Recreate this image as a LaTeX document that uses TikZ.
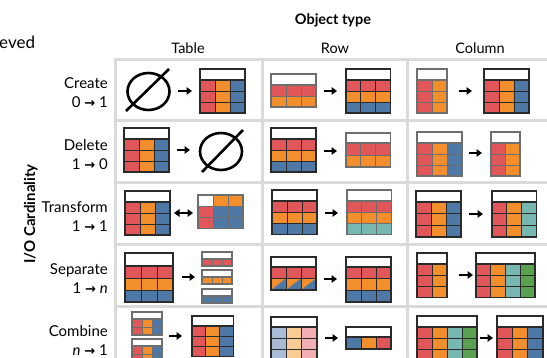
\documentclass[tikz,border=0pt]{standalone}
\usepackage{fontspec}
\setmainfont{Lato}
\newfontfamily\djv{DejaVu Sans}
\usetikzlibrary{arrows.meta}
\definecolor{tr}{HTML}{E15759}
\definecolor{to}{HTML}{F28E2B}
\definecolor{tb}{HTML}{4E79A7}
\definecolor{tt}{HTML}{76B7B2}
\definecolor{tg}{HTML}{59A14F}
\definecolor{lb}{HTML}{A9BCD6}
\definecolor{lo}{HTML}{F9CB95}
\definecolor{lp}{HTML}{F2AEB1}
\definecolor{gridc}{HTML}{DADADA}
\definecolor{bd}{HTML}{2A2A2A}
\definecolor{bg}{HTML}{6E6E6E}
\newcommand\rarr{{\djv\bfseries\fontsize{13}{15}\selectfont →}}
% #1 x, #2 y, #3 cell w, #4 header h, #5 cell h, #6 border colour, #7 ncols, #8 nrows, #9 rows
\newcommand\mtab[9]{%
  \begin{scope}[shift={(#1,#2)}]
    \foreach \rr [count=\ii from 0] in {#9} {
      \foreach \cc [count=\jj from 0] in \rr {
        \filldraw[fill=\cc, draw=#6, line width=0.9pt] (\jj*#3, #4+\ii*#5) rectangle ++(#3,#5);
      }
    }
    \filldraw[draw=#6, fill=white, line width=1.2pt] (0,0) rectangle (#7*#3, #4);
    \draw[#6, line width=1.2pt] (0,0) rectangle (#7*#3, #4+#8*#5);
  \end{scope}}
\tikzset{
  arr/.style={line width=2pt, -{Triangle[length=5.5pt,width=7.5pt]}},
  darr/.style={line width=2pt, {Triangle[length=5.5pt,width=7.5pt]}-{Triangle[length=5.5pt,width=7.5pt]}},
  gline/.style={gridc, line width=3pt},
  empt/.style={line width=2.6pt},
  rowlab/.style={anchor=base east, inner sep=0pt, font=\fontsize{15}{17}\selectfont},
  colhead/.style={anchor=base, inner sep=0pt, font=\fontsize{14.5}{17}\selectfont},
}
\begin{document}
\begin{tikzpicture}[x=1pt,y=-1pt]
\useasboundingbox (0,0) rectangle (547,358);
\clip (0,0) rectangle (547,358);
% grid
\draw[gline] (115,60) -- (115,365);
\draw[gline] (262,60) -- (262,365);
\draw[gline] (407,60) -- (407,365);
\foreach \yy in {60,121,183,245,307} \draw[gline] (113.5,\yy) -- (560,\yy);
% headings
\node[anchor=base west, inner sep=0pt, font=\fontsize{17}{20}\selectfont] (ev) at (-1,49) {eved};
\node[anchor=base, inner sep=0pt, font=\fontsize{14.5}{17}\selectfont\bfseries] (ot) at (333,25) {Object type};
\node[colhead] (hT) at (188,54) {Table};
\node[colhead] (hR) at (335,54) {Row};
\node[colhead] (hC) at (480,54) {Column};
\node[anchor=base, inner sep=0pt, rotate=90, font=\fontsize{15}{17}\selectfont\bfseries] (io) at (35,214) {I/O Cardinality};
% row labels
\node[rowlab] (l1a) at (108,89) {Create};
\node[rowlab] (l1b) at (108,108) {0 \rarr{} 1};
\node[rowlab] (l2a) at (108,151) {Delete};
\node[rowlab] (l2b) at (108,170) {1 \rarr{} 0};
\node[rowlab] (l3a) at (108,213) {Transform};
\node[rowlab] (l3b) at (108,232) {1 \rarr{} 1};
\node[rowlab] (l4a) at (108,275) {Separate};
\node[rowlab] (l4b) at (108,294) {1 \rarr{} \textit{n}};
\node[rowlab] (l5a) at (108,337) {Combine};
\node[rowlab] (l5b) at (108,356) {\textit{n} \rarr{} 1};
% ---------- Create ----------
\draw[empt] (148.5,91.5) ellipse [x radius=21, y radius=18.5];
\draw[empt] (126,111) -- (169,69);
\draw[arr] (178,91) -- (192,91);
\mtab{200}{69}{15}{11}{11}{bd}{3}{3}{{tr,to,tb},{tr,to,tb},{tr,to,tb}}
\mtab{271}{74}{15}{11}{11}{bg}{3}{2}{{tr,tr,tr},{to,to,to}}
\draw[arr] (324,91) -- (337,91);
\mtab{346}{69}{14.7}{11}{11}{bd}{3}{3}{{tr,tr,tr},{to,to,to},{tb,tb,tb}}
\mtab{417}{69}{15}{11}{11}{bg}{2}{3}{{tr,to},{tr,to},{tr,to}}
\draw[arr] (459,91) -- (472,91);
\mtab{484}{69}{15}{11}{11}{bd}{3}{3}{{tr,to,tb},{tr,to,tb},{tr,to,tb}}
% ---------- Delete ----------
\mtab{124}{128}{15}{11}{11}{bd}{3}{3}{{tr,to,tb},{tr,to,tb},{tr,to,tb}}
\draw[arr] (177,150) -- (190,150);
\draw[empt] (221,151.5) ellipse [x radius=21, y radius=18.5];
\draw[empt] (202,172) -- (243,130);
\mtab{271}{128}{15}{11}{11}{bd}{3}{3}{{tr,tr,tr},{to,to,to},{tb,tb,tb}}
\draw[arr] (324,151) -- (337,151);
\mtab{346}{133}{14.7}{10}{12}{bg}{3}{2}{{tr,tr,tr},{to,to,to}}
\mtab{417}{132}{15}{11}{11}{bg}{3}{3}{{tr,to,tb},{tr,to,tb},{tr,to,tb}}
\draw[arr] (469,153) -- (482,153);
\mtab{491}{132}{14.5}{11}{11}{bg}{2}{3}{{tr,to},{tr,to},{tr,to}}
% ---------- Transform ----------
\mtab{125}{191}{15}{11}{11}{bd}{3}{3}{{tr,to,tb},{tr,to,tb},{tr,to,tb}}
\draw[darr] (174,213) -- (193,213);
\mtab{198}{195}{15}{0}{11.3}{bg}{3}{3}{{white,to,to},{tr,tb,tb},{tr,tb,tb}}
\mtab{272}{190}{15}{11}{11.3}{bd}{3}{3}{{tr,tr,tr},{to,to,to},{tb,tb,tb}}
\draw[arr] (325,213) -- (338,213);
\mtab{347}{190}{14.7}{11}{11.3}{bg}{3}{3}{{tr,tr,tr},{to,to,to},{tt,tt,tt}}
\mtab{416}{191}{15}{11}{11.7}{bd}{3}{3}{{tr,to,tb},{tr,to,tb},{tr,to,tb}}
\draw[arr] (469,214) -- (483,214);
\mtab{492}{191}{14.7}{11}{11.7}{bd}{3}{3}{{tr,to,tt},{tr,to,tt},{tr,to,tt}}
% ---------- Separate ----------
\mtab{125}{253}{16}{13}{12}{bd}{3}{3}{{tr,tr,tr},{to,to,to},{tb,tb,tb}}
\draw[arr] (182,277) -- (195,277);
\mtab{202}{252}{10}{7}{7}{bg}{3}{1}{{tr,tr,tr}}
\mtab{202}{270}{10}{7}{7}{bg}{3}{1}{{to,to,to}}
\mtab{202}{289}{10}{7}{7}{bg}{3}{1}{{tb,tb,tb}}
\mtab{271}{257}{15}{10}{11.5}{bd}{3}{2}{{tr,tr,tr},{to,to,to}}
\foreach \k in {0,1,2} {
  \fill[tb] (271+\k*15,290) -- ++(15,0) -- ++(0,-11.5) -- cycle;
  \draw[bd, line width=0.9pt] (271+\k*15,278.5) rectangle ++(15,11.5);
}
\draw[bd, line width=1.2pt] (271,257) rectangle (316,290);
\draw[arr] (324,279) -- (337,279);
\mtab{346}{257}{15}{10}{11.7}{bd}{3}{3}{{tr,tr,tr},{to,to,to},{tb,tb,tb}}
\mtab{417}{253}{15}{11}{11.3}{bd}{2}{3}{{tr,to},{tr,to},{tr,to}}
\draw[arr] (459,275) -- (473,275);
\mtab{476}{253}{14.75}{11}{11.3}{bd}{4}{3}{{tr,to,tt,tg},{tr,to,tt,tg},{tr,to,tt,tg}}
% ---------- Combine ----------
\mtab{132}{312}{10}{7}{8}{bg}{3}{2}{{tr,to,tb},{tr,to,tb}}
\mtab{132}{339}{10}{7}{8}{bg}{3}{2}{{tr,to,tb},{tr,to,tb}}
\draw[arr] (169,336) -- (182,336);
\mtab{192}{316}{13.7}{10}{10.3}{bd}{3}{3}{{tr,to,tb},{tr,to,tb},{tr,to,tb}}
\mtab{271}{317}{15.3}{10}{11}{bd}{3}{3}{{lb,lo,lp},{lb,lo,lp},{lb,lo,lp}}
\draw[arr] (325,338) -- (338,338);
\mtab{346}{327}{15}{10}{12}{bd}{3}{1}{{tb,to,tr}}
\mtab{417}{316}{15}{11}{11}{bd}{4}{3}{{tr,to,tt,tg},{tr,to,tt,tg},{tr,to,tt,tg}}
\draw[arr] (480,338) -- (493,338);
\mtab{497}{316}{15.3}{11}{11}{bd}{3}{3}{{tr,to,tb},{tr,to,tb},{tr,to,tb}}
\end{tikzpicture}
\end{document}
